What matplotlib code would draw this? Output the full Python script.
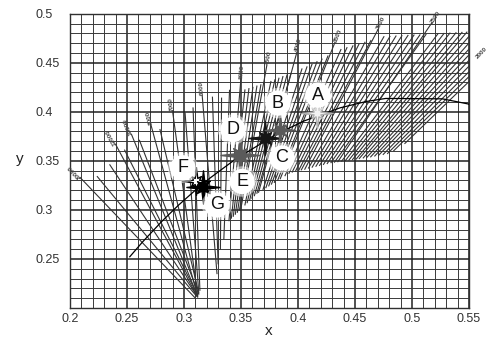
import numpy as np
import matplotlib.pyplot as plt
from matplotlib.path import Path

plt.rcParams['font.family'] = ['Liberation Sans', 'DejaVu Sans']

# Planckian locus
locus_x = [0.2525, 0.2637, 0.2807, 0.2952, 0.3135, 0.3221, 0.3325, 0.3451,
           0.3805, 0.4053, 0.4369, 0.4599, 0.4770, 0.5267, 0.5492, 0.5648]
locus_y = [0.2522, 0.2673, 0.2884, 0.3048, 0.3237, 0.3318, 0.3408, 0.3516,
           0.3768, 0.3907, 0.4041, 0.4106, 0.4137, 0.4133, 0.4081, 0.4014]

# isotemperature lines: upper end and lower end
iso_top_x = [0.209, 0.224, 0.235, 0.240, 0.248, 0.254, 0.261, 0.271, 0.279, 0.290,
             0.301, 0.308, 0.316, 0.325, 0.333, 0.340, 0.350, 0.3535, 0.3570, 0.3605,
             0.3640, 0.3675, 0.3728, 0.3763, 0.3798, 0.3833, 0.3868, 0.3904, 0.3939, 0.3991,
             0.4035, 0.4079, 0.4123, 0.4167, 0.4211, 0.4263, 0.4325, 0.4377, 0.4430, 0.4482,
             0.4535, 0.4588, 0.4640, 0.4702, 0.4754, 0.4807, 0.4860, 0.4912, 0.4965, 0.5018,
             0.5070, 0.5123, 0.5175, 0.5228, 0.5281, 0.5333, 0.5386, 0.5439, 0.5482, 0.5530,
             0.5560, 0.5586, 0.5595, 0.5610, 0.5570, 0.5663, 0.5666, 0.5670]
iso_top_y = [0.333, 0.334, 0.346, 0.367, 0.361, 0.377, 0.371, 0.387, 0.382, 0.401,
             0.399, 0.404, 0.417, 0.415, 0.414, 0.422, 0.434, 0.4224, 0.4237, 0.4250,
             0.4263, 0.4276, 0.448, 0.4310, 0.4327, 0.4343, 0.4360, 0.4376, 0.4393, 0.461,
             0.4438, 0.4459, 0.4485, 0.4512, 0.4538, 0.4570, 0.471, 0.4636, 0.4655, 0.4673,
             0.4691, 0.4710, 0.4728, 0.484, 0.4767, 0.4770, 0.4774, 0.4777, 0.4780, 0.4784,
             0.4786, 0.4790, 0.491, 0.4797, 0.4800, 0.4804, 0.4807, 0.4811, 0.4814, 0.481,
             0.478, 0.475, 0.470, 0.466, 0.455, 0.460, 0.455, 0.450]
iso_bot_x = [0.310, 0.311, 0.311, 0.312, 0.312, 0.312, 0.313, 0.312, 0.313, 0.312,
             0.313, 0.314, 0.329, 0.330, 0.332, 0.335, 0.3395, 0.3416, 0.3433, 0.3451,
             0.3469, 0.3487, 0.3499, 0.3535, 0.3555, 0.3576, 0.3596, 0.3618, 0.3640, 0.3655,
             0.3694, 0.3719, 0.3744, 0.3768, 0.3793, 0.3822, 0.3845, 0.3887, 0.3921, 0.3950,
             0.3978, 0.4006, 0.4030, 0.4060, 0.4093, 0.4125, 0.4158, 0.4190, 0.4224, 0.4257,
             0.4290, 0.4321, 0.4350, 0.4384, 0.4416, 0.4447, 0.4479, 0.4512, 0.4538, 0.4573,
             0.4605, 0.4638, 0.4674, 0.4708, 0.4748, 0.4786, 0.4840, 0.4938]
iso_bot_y = [0.210, 0.212, 0.213, 0.211, 0.213, 0.212, 0.214, 0.212, 0.215, 0.213,
             0.216, 0.218, 0.235, 0.245, 0.260, 0.270, 0.289, 0.2916, 0.2935, 0.2956,
             0.2976, 0.2997, 0.3010, 0.3051, 0.3074, 0.3097, 0.3120, 0.3145, 0.3170, 0.3180,
             0.3209, 0.3227, 0.3245, 0.3263, 0.3281, 0.3302, 0.3318, 0.3349, 0.3373, 0.3386,
             0.3394, 0.3402, 0.3409, 0.3415, 0.3427, 0.3436, 0.3445, 0.3454, 0.3464, 0.3473,
             0.3482, 0.3487, 0.3492, 0.3498, 0.3503, 0.3508, 0.3514, 0.3520, 0.3524, 0.3530,
             0.3536, 0.3541, 0.3550, 0.3557, 0.3566, 0.3575, 0.3603, 0.3678]
# CCT labels at the top of some lines (index -> text)
iso_labels = {0: '20000', 3: '12000', 5: '10000', 7: '8000', 9: '7000', 12: '6000',
              16: '5000', 22: '4500', 29: '4000', 36: '3500', 43: '3000', 52: '2500',
              64: '2000'}

# sample points (stars) and their letters
star_x = [0.311, 0.317, 0.349, 0.371, 0.384, 0.417]
star_y = [0.329, 0.323, 0.356, 0.373, 0.382, 0.399]
star_face = ['white', 'black', '#5a5a5a', '#151515', '#5a5a5a', '#f2f2f2']
star_edge = ['black', 'black', '#5a5a5a', '#151515', '#5a5a5a', '#b0b0b0']
star_size = [20, 24, 28, 24, 22, 22]

letters = ['A', 'B', 'C', 'D', 'E', 'F', 'G']
letter_x = [0.4175, 0.3825, 0.386, 0.343, 0.351, 0.299, 0.329]
letter_y = [0.417, 0.409, 0.353, 0.382, 0.329, 0.343, 0.305]

x_ticks = [0.2, 0.25, 0.3, 0.35, 0.4, 0.45, 0.5, 0.55]
x_tick_labels = ['0.2', '0.25', '0.3', '0.35', '0.4', '0.45', '0.5', '0.55']
y_ticks = [0.25, 0.3, 0.35, 0.4, 0.45, 0.5]
y_tick_labels = ['0.25', '0.3', '0.35', '0.4', '0.45', '0.5']

fig = plt.figure(figsize=(4.89, 3.38), dpi=100)
ax = fig.add_axes([0.143, 0.089, 0.816, 0.870])
ax.set_xlim(0.2, 0.55)
ax.set_ylim(0.2, 0.5)

ax.set_xticks(x_ticks, x_tick_labels)
ax.set_yticks(y_ticks, y_tick_labels)
ax.set_xticks(np.arange(0.2, 0.5501, 0.01), minor=True)
ax.set_yticks(np.arange(0.2, 0.5001, 0.01), minor=True)
ax.grid(which='major', color='#202020', lw=1.1)
ax.grid(which='minor', color='#3a3a3a', lw=0.7)
ax.set_axisbelow(True)
ax.tick_params(which='both', length=0, labelsize=9, colors='#333333')
ax.tick_params(axis='x', pad=3.6)
ax.tick_params(axis='y', pad=25)
for lab in ax.get_yticklabels():
    lab.set_ha('left')
for s in ax.spines.values():
    s.set_color('#303030')
    s.set_linewidth(1.0)

# isotemperature lines
for i in range(len(iso_top_x)):
    ax.plot([iso_bot_x[i], iso_top_x[i]], [iso_bot_y[i], iso_top_y[i]],
            color='#333333', lw=0.8, zorder=2)
for i, txt in iso_labels.items():
    ang = np.degrees(np.arctan2(iso_top_y[i] - iso_bot_y[i], iso_top_x[i] - iso_bot_x[i]))
    ax.text(iso_top_x[i], iso_top_y[i], txt, fontsize=4.6, color='#444444',
            rotation=ang, transform_rotates_text=True, rotation_mode='anchor',
            ha='left', va='center', fontweight='bold', clip_on=False, zorder=3)

# Planckian locus
ax.plot(locus_x, locus_y, color='black', lw=0.9, zorder=3)

# four-pointed sparkle marker
ang = np.deg2rad(np.arange(0, 360, 22.5) + 90)
rad = np.array([1, 0.24, 0.5, 0.24] * 4)
verts = np.column_stack([rad * np.cos(ang), rad * np.sin(ang)])
verts = np.vstack([verts, verts[:1]])
codes = [Path.MOVETO] + [Path.LINETO] * 15 + [Path.CLOSEPOLY]
sparkle = Path(verts, codes)

for i in range(len(star_x)):
    ax.plot(star_x[i], star_y[i], marker=sparkle, ms=star_size[i], ls='none',
            mfc=star_face[i], mec=star_edge[i], mew=1.0, zorder=5)

# white discs with letters
ax.scatter(letter_x, letter_y, s=480, c='white', alpha=0.5, edgecolors='none', zorder=6)
ax.scatter(letter_x, letter_y, s=330, c='white', edgecolors='none', zorder=6.5)
for lx, ly, t in zip(letter_x, letter_y, letters):
    ax.text(lx, ly, t, fontsize=13, color='#111111', ha='center', va='center', zorder=7)

ax.set_xlabel('x', fontsize=11, color='#222222')
ax.set_ylabel('y', fontsize=11, color='#222222', rotation=0)
ax.xaxis.set_label_coords(0.499, -0.092)
ax.xaxis.label.set_va('baseline')
ax.yaxis.set_label_coords(-0.125, 0.493)
ax.yaxis.label.set_va('baseline')
ax.yaxis.label.set_ha('center')

fig.savefig('out.png', dpi=100)
